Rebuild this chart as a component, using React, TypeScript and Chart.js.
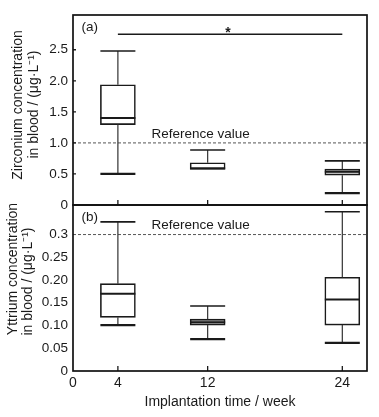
import React, { useEffect, useRef } from 'react';
import { Chart, registerables } from 'chart.js';
Chart.register(...registerables);

// ---- data ----
const weeks = [4, 12, 24];
const xTickValues = [0, 4, 12, 24];

// Zirconium concentration in blood (µg/L)
const zrLow = [0.5, 0.575, 0.19];
const zrQ1 = [1.295, 0.575, 0.48];
const zrMedian = [1.4, 0.59, 0.535];
const zrQ3 = [1.935, 0.68, 0.58];
const zrHigh = [2.48, 0.885, 0.71];
const zrFill = ['#ffffff', '#ffffff', '#bdbdbd'];
const zrTicks = [0, 0.5, 1.0, 1.5, 2.0, 2.5];
const zrReference = 1.0;
const zrSigFrom = 4;
const zrSigTo = 24;
const zrSigLevel = 2.75;
const zrSigStarX = 13.8;

// Yttrium concentration in blood (µg/L)
const ytLow = [0.101, 0.07, 0.062];
const ytQ1 = [0.118, 0.101, 0.101];
const ytMedian = [0.17, 0.107, 0.157];
const ytQ3 = [0.192, 0.114, 0.206];
const ytHigh = [0.328, 0.143, 0.35];
const ytFill = ['#ffffff', '#bdbdbd', '#ffffff'];
const ytTicks = [0, 0.05, 0.1, 0.15, 0.2, 0.25, 0.3];
const ytReference = 0.3;

const FONT = '"Liberation Sans", Arial, sans-serif';
const INK = '#1a1a1a';

type PanelCfg = {
  low: number[]; median: number[]; high: number[];
  reference: number; refLabelX: number;
  panelLabel: string;
  titleLines: [string, string];
  titlePos: { x: number; y: number }[];
  tickMarksY: number[] | null;
  sig?: { from: number; to: number; level: number; starX: number };
};

function makePlugin(p: PanelCfg) {
  return {
    id: 'boxextras',
    afterDatasetsDraw(chart: any) {
      const ctx = chart.ctx as CanvasRenderingContext2D;
      const xs = chart.scales.x;
      const ys = chart.scales.y;
      const area = chart.chartArea;
      const meta = chart.getDatasetMeta(0);
      ctx.save();
      // reference line
      const ry = ys.getPixelForValue(p.reference);
      ctx.strokeStyle = '#555';
      ctx.lineWidth = 1;
      ctx.setLineDash([3, 2]);
      ctx.beginPath();
      ctx.moveTo(area.left, ry);
      ctx.lineTo(area.right, ry);
      ctx.stroke();
      ctx.setLineDash([]);
      ctx.fillStyle = INK;
      ctx.font = `13.5px ${FONT}`;
      ctx.textAlign = 'left';
      ctx.textBaseline = 'middle';
      ctx.fillText('Reference value', xs.getPixelForValue(p.refLabelX), ry - 9);

      // whiskers and medians
      meta.data.forEach((bar: any, i: number) => {
        const cx = bar.x;
        const half = bar.width / 2;
        const yLow = ys.getPixelForValue(p.low[i]);
        const yHigh = ys.getPixelForValue(p.high[i]);
        const yTop = Math.min(bar.y, bar.base);
        const yBot = Math.max(bar.y, bar.base);
        const yMed = ys.getPixelForValue(p.median[i]);
        ctx.strokeStyle = '#333';
        ctx.lineWidth = 1.2;
        ctx.beginPath();
        ctx.moveTo(cx, yTop);
        ctx.lineTo(cx, yHigh);
        ctx.moveTo(cx, yBot);
        ctx.lineTo(cx, yLow);
        ctx.stroke();
        ctx.strokeStyle = INK;
        ctx.lineWidth = 1.6;
        ctx.beginPath();
        ctx.moveTo(cx - half, yHigh);
        ctx.lineTo(cx + half, yHigh);
        ctx.stroke();
        if (Math.abs(yLow - yBot) > 1) {
          ctx.lineWidth = 2.2;
          ctx.beginPath();
          ctx.moveTo(cx - half, yLow);
          ctx.lineTo(cx + half, yLow);
          ctx.stroke();
        }
        ctx.lineWidth = 2;
        ctx.beginPath();
        ctx.moveTo(cx - half, yMed);
        ctx.lineTo(cx + half, yMed);
        ctx.stroke();
      });

      // significance bar
      if (p.sig) {
        const sy = ys.getPixelForValue(p.sig.level);
        ctx.strokeStyle = INK;
        ctx.lineWidth = 1.6;
        ctx.beginPath();
        ctx.moveTo(xs.getPixelForValue(p.sig.from), sy);
        ctx.lineTo(xs.getPixelForValue(p.sig.to), sy);
        ctx.stroke();
        ctx.font = `bold 14px ${FONT}`;
        ctx.textAlign = 'center';
        ctx.textBaseline = 'alphabetic';
        ctx.fillText('*', xs.getPixelForValue(p.sig.starX), sy + 3);
      }

      // tick marks (inward)
      ctx.strokeStyle = INK;
      ctx.lineWidth = 1.3;
      ctx.beginPath();
      weeks.forEach((w) => {
        const tx = xs.getPixelForValue(w);
        ctx.moveTo(tx, area.bottom);
        ctx.lineTo(tx, area.bottom - 5);
      });
      if (p.tickMarksY) {
        p.tickMarksY.forEach((v) => {
          if (v === 0) return;
          const ty = ys.getPixelForValue(v);
          ctx.moveTo(area.left, ty);
          ctx.lineTo(area.left + 3, ty);
        });
      }
      ctx.stroke();

      // frame
      ctx.lineWidth = 1.7;
      ctx.strokeStyle = '#111';
      ctx.strokeRect(area.left, area.top, area.right - area.left, area.bottom - area.top);

      // panel label
      ctx.fillStyle = INK;
      ctx.font = `13.5px ${FONT}`;
      ctx.textAlign = 'left';
      ctx.textBaseline = 'middle';
      ctx.fillText(p.panelLabel, area.left + 8.5, area.top + 12.5);

      // y title
      ctx.font = `14px ${FONT}`;
      ctx.textAlign = 'center';
      ctx.textBaseline = 'middle';
      p.titleLines.forEach((line, k) => {
        ctx.save();
        ctx.translate(p.titlePos[k].x, p.titlePos[k].y);
        ctx.rotate(-Math.PI / 2);
        ctx.fillText(line, 0, 0);
        ctx.restore();
      });
      ctx.restore();
    },
  };
}

function yAxis(min: number, max: number, ticks: number[], fmt: (v: number) => string) {
  return {
    min, max,
    afterFit: (s: any) => { s.width = 73; s.paddingTop = 0; s.paddingBottom = 0; },
    afterBuildTicks: (s: any) => { s.ticks = ticks.map((v) => ({ value: v })); },
    grid: { display: false, drawTicks: false },
    border: { display: false },
    ticks: { padding: 5, color: INK, font: { family: FONT, size: 13.5 }, callback: (v: any) => fmt(Number(v)) },
  };
}

export default function App() {
  const topRef = useRef<HTMLCanvasElement | null>(null);
  const botRef = useRef<HTMLCanvasElement | null>(null);

  useEffect(() => {
    const top = new Chart(topRef.current!, {
      type: 'bar',
      data: {
        datasets: [{
          data: weeks.map((w, i) => ({ x: w, y: [zrQ1[i], zrQ3[i]] })) as any,
          backgroundColor: zrFill,
          borderColor: INK,
          borderWidth: 1.6,
          borderSkipped: false,
          barThickness: 35,
        }],
      },
      options: {
        animation: false,
        responsive: false,
        layout: { padding: { top: 15, right: 12, bottom: 6, left: 0 } },
        plugins: { legend: { display: false }, tooltip: { enabled: false } },
        scales: {
          x: { type: 'linear', min: 0, max: 26.2, offset: false, display: false,
            afterFit: (s: any) => { s.paddingLeft = 0; s.paddingRight = 0; } },
          y: yAxis(0, 3.06, zrTicks, (v) => (v === 0 ? '0' : v.toFixed(1))) as any,
        },
      },
      plugins: [makePlugin({
        low: zrLow, median: zrMedian, high: zrHigh,
        reference: zrReference, refLabelX: 7.0,
        panelLabel: '(a)',
        titleLines: ['Zirconium concentration', 'in blood / (\u03bcg\u00b7L\u207b\u00b9)'],
        titlePos: [{ x: 18, y: 105 }, { x: 34.5, y: 104.5 }],
        tickMarksY: zrTicks,
        sig: { from: zrSigFrom, to: zrSigTo, level: zrSigLevel, starX: zrSigStarX },
      }) as any],
    });

    const bot = new Chart(botRef.current!, {
      type: 'bar',
      data: {
        datasets: [{
          data: weeks.map((w, i) => ({ x: w, y: [ytQ1[i], ytQ3[i]] })) as any,
          backgroundColor: ytFill,
          borderColor: INK,
          borderWidth: 1.6,
          borderSkipped: false,
          barThickness: 35,
        }],
      },
      options: {
        animation: false,
        responsive: false,
        layout: { padding: { top: 5, right: 12, bottom: 0, left: 0 } },
        plugins: { legend: { display: false }, tooltip: { enabled: false } },
        scales: {
          x: {
            type: 'linear', min: 0, max: 26.2, offset: false,
            afterBuildTicks: (s: any) => { s.ticks = xTickValues.map((v) => ({ value: v })); },
            afterFit: (s: any) => { s.height = 46; s.paddingLeft = 0; s.paddingRight = 0; },
            grid: { display: false, drawTicks: false },
            border: { display: false },
            ticks: { padding: 4, color: INK, autoSkip: false, maxRotation: 0, font: { family: FONT, size: 14 } },
            title: { display: true, text: 'Implantation time / week', color: INK, font: { family: FONT, size: 14 }, padding: { top: 0, bottom: 6 } },
          },
          y: yAxis(0, 0.365, ytTicks, (v) => (v === 0 ? '0' : v === 0.3 ? '0.3' : v.toFixed(2))) as any,
        },
      },
      plugins: [makePlugin({
        low: ytLow, median: ytMedian, high: ytHigh,
        reference: ytReference, refLabelX: 7.0,
        panelLabel: '(b)',
        titleLines: ['Yttrium concentration', 'in blood / (\u03bcg\u00b7L\u207b\u00b9)'],
        titlePos: [{ x: 13, y: 69 }, { x: 28.5, y: 81.5 }],
        tickMarksY: null,
      }) as any],
    });

    return () => { top.destroy(); bot.destroy(); };
  }, []);

  return (
    <div style={{ position: 'absolute', left: 0, top: 0, width: 379, height: 417, background: '#fff' }}>
      <canvas ref={topRef} width={379} height={211} style={{ position: 'absolute', left: 0, top: 0 }} />
      <canvas ref={botRef} width={379} height={217} style={{ position: 'absolute', left: 0, top: 200 }} />
    </div>
  );
}
